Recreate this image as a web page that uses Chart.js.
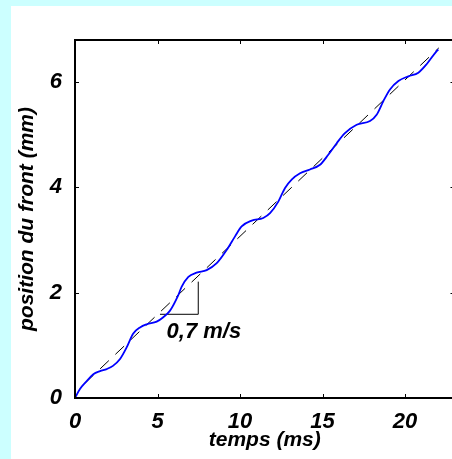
<!DOCTYPE html>
<html>
<head>
<meta charset="utf-8">
<script src="https://cdn.jsdelivr.net/npm/chart.js@4/dist/chart.umd.min.js"></script>
<style>
    html, body { margin: 0; padding: 0; overflow: hidden; }
    body { width: 452px; height: 459px; background: #ccffff; position: relative; }
    #panel { position: absolute; left: 11px; top: 6px; right: 0; bottom: 0; background: #ffffff; }
    #chart { position: absolute; left: 0; top: 0; }
</style>
</head>
<body>
<div id="panel"></div>
<canvas id="chart" width="462" height="459"></canvas>
<script>
const tempsMs = [0, 0.30, 0.71, 1.11, 1.52, 1.92, 2.30, 2.73, 3.13, 3.52, 3.94, 4.35, 4.95, 5.33, 5.76, 6.24,
    6.46, 6.87, 7.37, 7.98, 8.59, 9.19, 9.70, 10.10, 10.71, 11.41, 11.82, 12.32, 12.73, 13.13, 13.64,
    14.24, 14.85, 15.35, 15.86, 16.36, 17.07, 17.88, 18.28, 18.69, 19.09, 19.60, 20.20, 20.81, 21.31, 21.92, 22.02];
const positionMm = [0, 0.17, 0.32, 0.45, 0.51, 0.55, 0.61, 0.74, 0.96, 1.22, 1.34, 1.40, 1.45, 1.53, 1.66, 1.94,
    2.11, 2.30, 2.38, 2.43, 2.56, 2.81, 3.07, 3.26, 3.37, 3.42, 3.51, 3.73, 3.99, 4.15, 4.27,
    4.34, 4.43, 4.62, 4.84, 5.03, 5.19, 5.26, 5.38, 5.64, 5.86, 6.02, 6.11, 6.18, 6.34, 6.59, 6.62];

// droite moyenne (tirets)
const fitT = [0.6, 22.05];
const fitY = [0.28, 6.65];

// triangle de pente + texte
const pentT = [5.15, 7.47, 7.47];
const pentY = [1.59, 1.59, 2.21];
const pentLabel = '0,7 m/s';
const pentLabelAt = [5.55, 1.14];

const xTicks = [0, 5, 10, 15, 20];
const yTicks = [0, 2, 4, 6];
const xMax = 23;
const yMax = 6.8;

const FONT = "'Liberation Sans', Arial, sans-serif";

const toPoints = (xs, ys) => xs.map((x, i) => ({x: x, y: ys[i]}));

// cadre et graduations vers l'interieur, comme sous matlab
const boxPlugin = {
    id: 'box',
    afterDatasetsDraw(chart) {
        const {ctx, chartArea: a, scales} = chart;
        const len = 4;
        ctx.save();
        ctx.strokeStyle = '#000';
        ctx.lineWidth = 1;
        ctx.beginPath();
        for (let v of xTicks) {
            const px = Math.round(scales.x.getPixelForValue(v)) + 0.5;
            ctx.moveTo(px, a.bottom); ctx.lineTo(px, a.bottom - len);
            ctx.moveTo(px, a.top); ctx.lineTo(px, a.top + len);
        }
        for (let v of yTicks) {
            const py = Math.round(scales.y.getPixelForValue(v)) + 0.5;
            ctx.moveTo(a.left, py); ctx.lineTo(a.left + len, py);
            ctx.moveTo(a.right, py); ctx.lineTo(a.right - len, py);
        }
        ctx.stroke();
        ctx.lineWidth = 2;
        ctx.strokeRect(a.left, a.top, a.right - a.left, a.bottom - a.top);

        ctx.fillStyle = '#000';
        ctx.font = "italic bold 22px " + FONT;
        ctx.textAlign = 'left';
        ctx.textBaseline = 'alphabetic';
        ctx.fillText(pentLabel, scales.x.getPixelForValue(pentLabelAt[0]), scales.y.getPixelForValue(pentLabelAt[1]));
        ctx.restore();
    }
};

new Chart(document.getElementById('chart'), {
    type: 'line',
    data: {
        datasets: [
            {
                data: toPoints(tempsMs, positionMm),
                borderColor: '#0000ff',
                borderWidth: 1.8,
                pointRadius: 0,
                cubicInterpolationMode: 'monotone',
                order: 1
            },
            {
                data: toPoints(fitT, fitY),
                borderColor: '#000000',
                borderWidth: 1,
                borderDash: [12, 9],
                pointRadius: 0,
                order: 2
            },
            {
                data: toPoints(pentT, pentY),
                borderColor: '#000000',
                borderWidth: 1,
                pointRadius: 0,
                tension: 0,
                order: 3
            }
        ]
    },
    options: {
        responsive: false,
        animation: false,
        events: [],
        layout: {padding: {left: 0, top: 40, right: 7.5, bottom: 0}},
        plugins: {legend: {display: false}, tooltip: {enabled: false}},
        scales: {
            x: {
                type: 'linear',
                min: 0,
                max: xMax,
                grid: {display: false, drawTicks: false},
                border: {display: false},
                afterFit: (s) => { s.height = 61; },
                afterBuildTicks: (s) => { s.ticks = xTicks.map(v => ({value: v})); },
                ticks: {
                    color: '#000',
                    padding: 11,
                    maxRotation: 0,
                    font: {family: FONT, size: 22, style: 'italic', weight: 'bold'}
                },
                title: {
                    display: true,
                    text: 'temps (ms)',
                    color: '#000',
                    padding: {top: 0, bottom: 6},
                    font: {family: FONT, size: 21, style: 'italic', weight: 'bold'}
                }
            },
            y: {
                type: 'linear',
                min: 0,
                max: yMax,
                grid: {display: false, drawTicks: false},
                border: {display: false},
                afterFit: (s) => { s.width = 75; },
                afterBuildTicks: (s) => { s.ticks = yTicks.map(v => ({value: v})); },
                ticks: {
                    color: '#000',
                    padding: 13,
                    font: {family: FONT, size: 22, style: 'italic', weight: 'bold'}
                },
                title: {
                    display: true,
                    text: 'position du front (mm)',
                    color: '#000',
                    padding: {top: 15, bottom: 0},
                    font: {family: FONT, size: 21, style: 'italic', weight: 'bold'}
                }
            }
        }
    },
    plugins: [boxPlugin]
});
</script>
</body>
</html>
